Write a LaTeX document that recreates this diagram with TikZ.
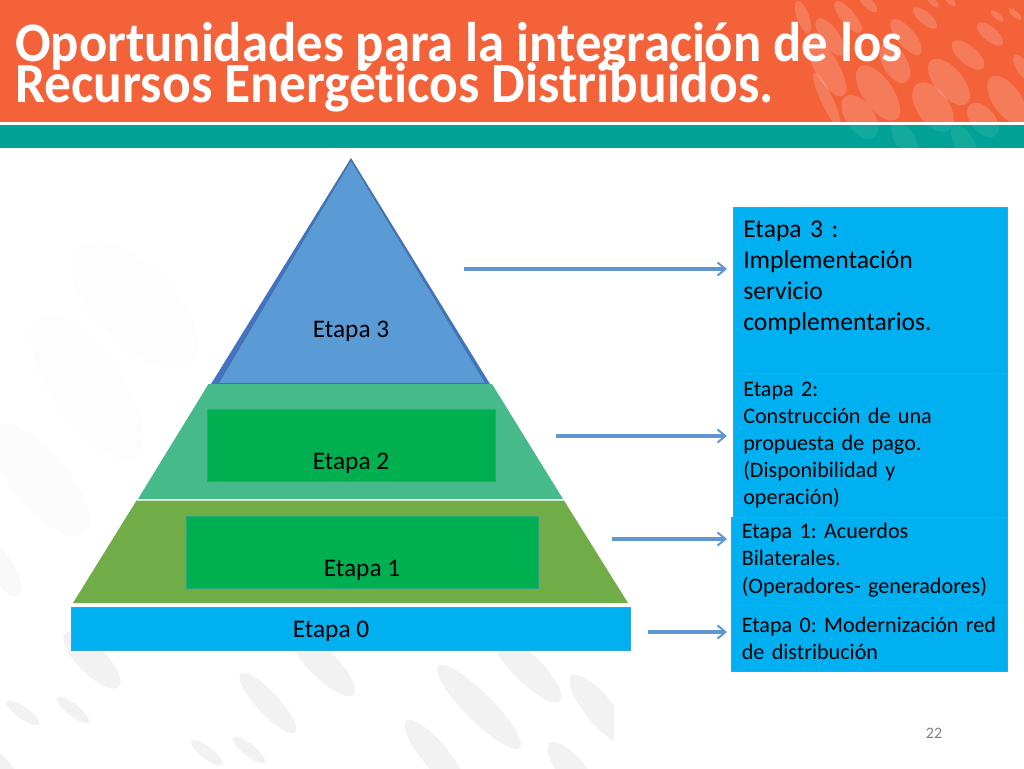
\documentclass[tikz,border=0pt]{standalone}
\usepackage{fontspec}
\setmainfont{Carlito}[Ligatures=CommonOff]
\usetikzlibrary{arrows.meta}
\definecolor{naranja}{HTML}{F4623A}
\definecolor{verdeazul}{HTML}{02A396}
\definecolor{celeste}{HTML}{00B0F0}
\definecolor{verdefuerte}{HTML}{00AF50}
\definecolor{verdeclaro}{HTML}{47BA8C}
\definecolor{verdeoliva}{HTML}{70AD47}
\definecolor{azulfondo}{HTML}{4472C4}
\definecolor{azulpico}{HTML}{5B9BD5}
\definecolor{azulborde}{HTML}{41719C}
\definecolor{flechaazul}{HTML}{5F97D1}
\definecolor{bordecaja}{HTML}{2FA7D8}
\definecolor{bordeverde}{HTML}{2BA57C}
\tikzset{
	caja/.style={draw=bordecaja, fill=celeste, line width=0.5pt},
	cajatexto/.style={anchor=north west, inner sep=0pt, align=left, text width=#1, text=black},
	etiqueta/.style={font=\fontsize{19}{19}\selectfont, inner sep=0pt, text=black},
	titular/.style={anchor=base west, inner sep=0pt, text=white, transform shape, yscale=1.06, font=\bfseries\fontsize{#1}{#1}\selectfont},
	flecha/.style={draw=flechaazul, line width=2.4pt, -{Straight Barb[length=6pt,width=10pt,line width=1.5pt]}},
	recuadro/.style={draw=bordeverde, fill=verdefuerte, line width=0.7pt}
}
\begin{document}
\frenchspacing
\begin{tikzpicture}[x=0.75pt,y=-0.75pt]
	\useasboundingbox (0,0) rectangle (1024,768);
	\foreach \ex/\ey/\ea/\eb/\er/\ec in {92/660/38/14/-45/5, 23/713/20/6/-35/5, 73/710/20/6/-38/5,
		268/703/40/11/-47/5, 322/663/45/14/-45/5, 479/707/58/14/-45/5, 527/668/47/14/-45/5,
		207/753/20/6/-38/5, 249/750/20/6/-38/5, 435/755/45/13/-50/5, 572/770/35/13/-50/5,
		0/770/30/12/-50/5, 87/387/85/35/-55/0.8, 40/480/70/28/-50/1, 3/570/30/12/-60/2.5,
		135/305/80/40/-45/0.6}
		\fill[black!\ec] [shift={(\ex,\ey)},rotate=\er] (0,0) circle [x radius=\ea, y radius=\eb];
	\begin{scope}
		\clip (570,640) rectangle (614,768);
		\fill[black!5] [shift={(600,710)},rotate=-50] (0,0) circle [x radius=45, y radius=14];
	\end{scope}
	\fill[naranja] (0,0) rectangle (1024,121.5);
	\fill[verdeazul] (0,124.5) rectangle (1024,148);
	\begin{scope}
		\clip (0,0) rectangle (1024,121.5);
		\foreach \ex/\ey/\ea/\eb/\er in {803/17/17/6/-70, 848/17/20/7/-50, 830/37/22/9/-55, 906/37/22/9/-50, 925/18/15/6/-40,
			990/34/16/7/-40, 968/55/20/9/-40, 997/16/8/3/-40, 1015/14/8/3/-40, 868/3/12/5/-45, 933/2/7/3/-40, 950/1/7/3/-40,
			827/68/32/12/-60, 895/63/22/12/-60, 878/93/32/15/-55, 949/82/28/14/-50, 933/107/28/16/-55, 1007/100/28/14/-55,
			1022/67/14/6/-60, 827/100/30/6/-65, 860/117/25/14/-55, 983/120/20/12/-50}
			\fill[white,opacity=0.17] [shift={(\ex,\ey)},rotate=\er] (0,0) circle [x radius=\ea, y radius=\eb];
	\end{scope}
	\begin{scope}
		\clip (0,124.5) rectangle (1024,148);
		\foreach \ex/\ey/\ea/\eb/\er in {860/117/25/14/-55, 933/107/28/16/-55, 983/120/20/12/-50, 1007/100/28/14/-55, 878/93/32/15/-55, 905/140/22/10/-60, 965/145/22/10/-60}
			\fill[white,opacity=0.07] [shift={(\ex,\ey)},rotate=\er] (0,0) circle [x radius=\ea, y radius=\eb];
	\end{scope}
	\node[titular=39.5] (titulo1) at (15,61) {Oportunidades para la integración de los};
	\node[titular=40.1] (titulo2) at (15,102) {Recursos Energéticos Distribuidos.};

	\fill[azulfondo] (351,158) -- (490,384) -- (211,384) -- cycle;
	\draw[fill=azulpico, draw=azulborde, line width=0.6pt] (351,160) -- (486,383.5) -- (218,383.5) -- cycle;
	\fill[verdeclaro] (208.5,384) -- (492,384) -- (563,499) -- (138,499) -- cycle;
	\fill[verdeoliva] (136.5,500.5) -- (564,500.5) -- (628,603) -- (73,603) -- cycle;
	\path[recuadro] (207,409) rectangle (495.5,481);
	\path[recuadro] (186,516.5) rectangle (538,588);
	\draw[caja] (71,607) rectangle (630.5,650);

	\node[etiqueta] (e3) at (351,331.5) {Etapa 3};
	\node[etiqueta] (e2) at (351,463.5) {Etapa 2};
	\node[etiqueta] (e1) at (362,570.5) {Etapa 1};
	\node[etiqueta] (e0) at (331,631.5) {Etapa 0};

	\node[caja, anchor=north west, minimum width=205.5pt, minimum height=124.5pt, inner sep=0pt] (b3) at (733,207) {};
	\node[caja, anchor=north west, minimum width=205.5pt, minimum height=108pt, inner sep=0pt] (b2) at (733,373) {};
	\node[caja, anchor=north west, minimum width=207pt, minimum height=66pt, inner sep=0pt] (b1) at (731,517) {};
	\node[caja, anchor=north west, minimum width=207pt, minimum height=49.5pt, inner sep=0pt] (b0) at (731,605) {};

	\node[cajatexto=200pt, font=\fontsize{19.2}{23.2}\selectfont] (t3) at (743,220.5) {Etapa 3 :\\Implementación\\servicio\\complementarios.};
	\node[cajatexto=200pt, font=\fontsize{16.6}{20.4}\selectfont] (t2) at (743,381.5) {Etapa 2:\\Construcción de una\\propuesta de pago.\\(Disponibilidad y\\operación)};
	\node[cajatexto=200pt, font=\fontsize{16.6}{20.4}\selectfont] (t1) at (741.5,523) {Etapa 1: Acuerdos\\Bilaterales.\\(Operadores- generadores)};
	\node[cajatexto=200pt, font=\fontsize{16.6}{20.4}\selectfont] (t0) at (741.5,617) {Etapa 0: Modernización red\\de distribución};

	\coordinate (s3) at (464,269);
	\coordinate (s2) at (556,436);
	\coordinate (s1) at (612,539);
	\coordinate (s0) at (648,632);
	\draw[flecha, shorten >=4.5pt] (s3) -- (s3 -| b3.west);
	\draw[flecha, shorten >=4.5pt] (s2) -- (s2 -| b2.west);
	\draw[flecha, shorten >=3pt] (s1) -- (s1 -| b1.west);
	\draw[flecha, shorten >=3pt] (s0) -- (s0 -| b0.west);

	\node[inner sep=0pt, text=black!50, font=\fontsize{12}{12}\selectfont] (num) at (934,733) {22};
\end{tikzpicture}
\end{document}
